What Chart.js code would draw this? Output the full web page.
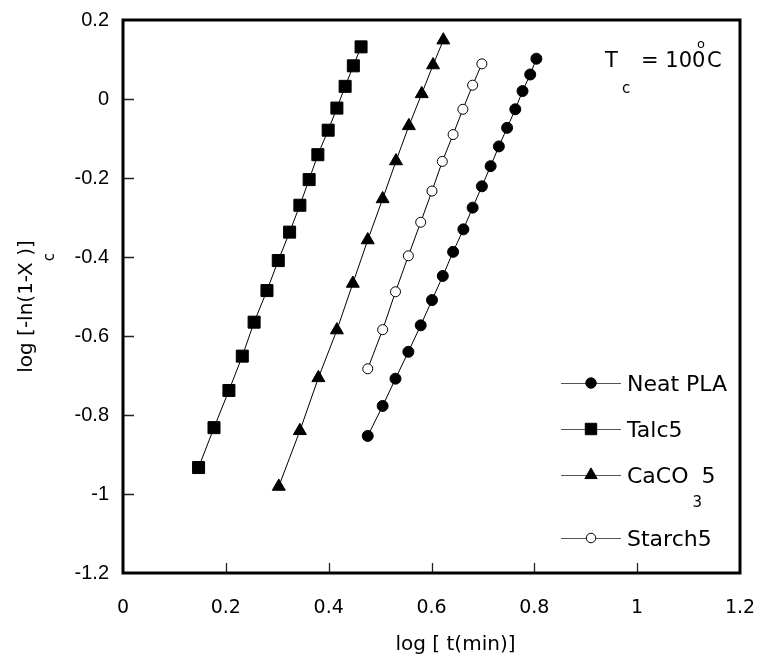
<!DOCTYPE html>
<html>
<head>
<meta charset="utf-8">
<script src="https://cdn.jsdelivr.net/npm/chart.js@4"></script>
<style>
  body { margin: 0; background: #fff; }
  #wrap { width: 760px; height: 657px; }
</style>
</head>
<body>
<div id="wrap"><canvas id="myChart"></canvas></div>
<script>
// values
const neatX = [0.476, 0.505, 0.530, 0.555, 0.579, 0.601, 0.622, 0.642, 0.662, 0.680, 0.698, 0.715, 0.731, 0.747, 0.763, 0.777, 0.792, 0.804];
const neatY = [-0.853, -0.777, -0.708, -0.640, -0.573, -0.509, -0.448, -0.387, -0.330, -0.275, -0.221, -0.170, -0.120, -0.073, -0.026, 0.020, 0.062, 0.102];

const talcX = [0.147, 0.177, 0.206, 0.232, 0.255, 0.280, 0.302, 0.324, 0.344, 0.362, 0.379, 0.399, 0.416, 0.432, 0.448, 0.463];
const talcY = [-0.933, -0.832, -0.738, -0.651, -0.565, -0.485, -0.409, -0.337, -0.269, -0.204, -0.141, -0.079, -0.023, 0.032, 0.084, 0.132];

const cacoX = [0.303, 0.344, 0.380, 0.416, 0.447, 0.476, 0.505, 0.531, 0.556, 0.581, 0.603, 0.623];
const cacoY = [-0.981, -0.840, -0.706, -0.585, -0.467, -0.357, -0.253, -0.157, -0.068, 0.013, 0.086, 0.149];

const starchX = [0.476, 0.505, 0.530, 0.555, 0.579, 0.601, 0.621, 0.642, 0.661, 0.680, 0.698];
const starchY = [-0.683, -0.584, -0.488, -0.397, -0.312, -0.233, -0.158, -0.090, -0.026, 0.035, 0.089];

const xTicks = [0, 0.2, 0.4, 0.6, 0.8, 1, 1.2];
const yTicks = [0.2, 0, -0.2, -0.4, -0.6, -0.8, -1, -1.2];

const pts = (xs, ys) => xs.map((x, i) => ({ x: x, y: ys[i] }));

const series = [
  { label: 'Neat PLA', data: pts(neatX, neatY), style: 'circle', r: 5.5, fill: '#000' },
  { label: 'Talc5', data: pts(talcX, talcY), style: 'rect', r: 8.5, fill: '#000' },
  { label: 'CaCO3 5', data: pts(cacoX, cacoY), style: 'triangle', r: 7.5, fill: '#000' },
  { label: 'Starch5', data: pts(starchX, starchY), style: 'circle', r: 5, fill: '#fff' }
];

const FONT = '"DejaVu Sans", sans-serif';

const decor = {
  id: 'decor',
  afterDraw(chart) {
    const ctx = chart.ctx;
    const a = chart.chartArea;
    const xs = chart.scales.x, ys = chart.scales.y;
    ctx.save();

    // inner tick marks
    ctx.strokeStyle = '#222';
    ctx.lineWidth = 1.3;
    ctx.beginPath();
    yTicks.slice(1, -1).forEach(v => {
      const y = Math.round(ys.getPixelForValue(v)) + 0.5;
      ctx.moveTo(a.left, y); ctx.lineTo(a.left + 11, y);
    });
    xTicks.slice(1, -1).forEach(v => {
      const x = Math.round(xs.getPixelForValue(v)) + 0.5;
      ctx.moveTo(x, a.bottom); ctx.lineTo(x, a.bottom - 10);
    });
    ctx.stroke();

    // frame
    ctx.strokeStyle = '#000';
    ctx.lineWidth = 3;
    ctx.strokeRect(a.left, a.top, a.right - a.left, a.bottom - a.top);

    ctx.fillStyle = '#000';
    ctx.textBaseline = 'alphabetic';
    ctx.textAlign = 'left';

    // T_c annotation
    ctx.font = '21px ' + FONT;
    ctx.fillText('T', a.right - 135, a.top + 47);
    ctx.fillText('= 100', a.right - 99, a.top + 47);
    ctx.fillText('C', a.right - 33, a.top + 47);
    ctx.font = '15px ' + FONT;
    ctx.fillText('c', a.right - 118, a.top + 73);
    ctx.font = '13px ' + FONT;
    ctx.fillText('o', a.right - 43, a.top + 28);

    // legend
    const rows = [363, 409, 455, 518];
    const lx0 = a.right - 179, lx1 = a.right - 119, mx = a.right - 149, tx = a.right - 113;
    series.forEach((s, i) => {
      const y = a.top + rows[i];
      ctx.strokeStyle = '#555';
      ctx.lineWidth = 1;
      ctx.beginPath();
      ctx.moveTo(lx0, y + 0.5); ctx.lineTo(lx1, y + 0.5);
      ctx.stroke();
      ctx.fillStyle = s.fill;
      ctx.strokeStyle = '#000';
      Chart.helpers.drawPoint(ctx, { pointStyle: s.style, radius: s.r * 0.95, rotation: 0, borderWidth: 1 }, mx, y);
      ctx.fillStyle = '#000';
      ctx.font = '22px ' + FONT;
      if (i === 2) {
        ctx.fillText('CaCO', tx, y + 8);
        const w = ctx.measureText('CaCO').width;
        ctx.fillText('5', tx + w + 13, y + 8);
        ctx.font = '15px ' + FONT;
        ctx.fillText('3', tx + w + 4, y + 32);
      } else {
        ctx.fillText(s.label, tx, y + 8);
      }
    });

    // x title
    ctx.font = '20px ' + FONT;
    ctx.textAlign = 'center';
    ctx.fillText('log [ t(min)]', (a.left + a.right) / 2 + 24, chart.height - 7);

    // y title with subscript
    ctx.translate(32, (a.top + a.bottom) / 2 + 10);
    ctx.rotate(-Math.PI / 2);
    ctx.textAlign = 'left';
    ctx.font = '20px ' + FONT;
    const p1 = 'log [-ln(1-X', p2 = ' )]';
    const w1 = ctx.measureText(p1).width, w2 = ctx.measureText(p2).width;
    const sx = -(w1 + w2) / 2;
    ctx.fillText(p1, sx, 0);
    ctx.fillText(p2, sx + w1, 0);
    ctx.font = '15px ' + FONT;
    ctx.fillText('c', sx + w1 + 1, 22);

    ctx.restore();
  }
};

new Chart(document.getElementById('myChart'), {
  type: 'scatter',
  data: {
    datasets: series.map(s => ({
      label: s.label,
      data: s.data,
      showLine: true,
      borderColor: '#000',
      borderWidth: 1,
      backgroundColor: s.fill,
      pointBackgroundColor: s.fill,
      pointBorderColor: '#000',
      pointBorderWidth: 1,
      pointStyle: s.style,
      pointRadius: s.r,
      pointHoverRadius: s.r
    }))
  },
  options: {
    responsive: true,
    maintainAspectRatio: false,
    animation: false,
    layout: { padding: { top: 20, right: 20, left: 0, bottom: 0 } },
    plugins: {
      legend: { display: false },
      tooltip: { enabled: false }
    },
    scales: {
      x: {
        type: 'linear',
        min: 0,
        max: 1.2,
        afterFit: s => { s.height = 84; s.paddingLeft = 0; s.paddingRight = 0; },
        afterBuildTicks: s => { s.ticks = xTicks.map(v => ({ value: v })); },
        ticks: {
          color: '#000',
          padding: 24,
          font: { family: FONT, size: 19 },
          callback: v => String(v)
        },
        grid: { display: false, drawTicks: false },
        border: { display: false }
      },
      y: {
        type: 'linear',
        min: -1.2,
        max: 0.2,
        afterFit: s => { s.width = 123; s.paddingTop = 0; s.paddingBottom = 0; },
        afterBuildTicks: s => { s.ticks = yTicks.map(v => ({ value: v })); },
        ticks: {
          color: '#000',
          padding: 14,
          font: { family: '"Liberation Sans", Arial, sans-serif', size: 20 },
          callback: v => String(v)
        },
        grid: { display: false, drawTicks: false },
        border: { display: false }
      }
    }
  },
  plugins: [decor]
});
</script>
</body>
</html>
